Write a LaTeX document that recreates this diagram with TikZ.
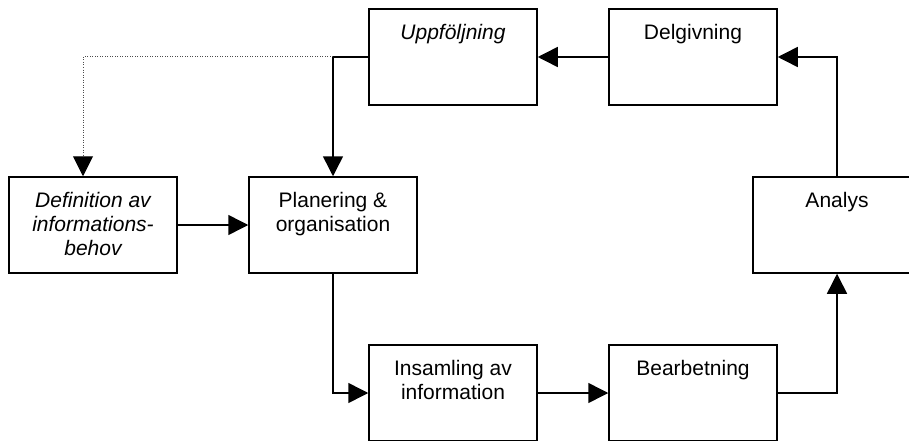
\documentclass[tikz,border=0pt]{standalone}
\usepackage{fontspec}
\setmainfont{Liberation Sans}
\usetikzlibrary{arrows.meta,positioning}
\tikzset{stepbox/.style={draw,line width=1.5pt,minimum width=168pt,minimum height=96pt,inner sep=0pt},
  boxtext/.style={inner sep=0pt,align=center,font=\fontsize{21}{24}\selectfont},
  flow/.style={line width=1.5pt,-{Triangle[length=20pt,width=20pt]}},
  hintflow/.style={line width=1pt,dash pattern=on 1pt off 1.5pt,black!70,
    -{Triangle[length=20pt,width=20pt,color=black]}}}

\begin{document}
\begin{tikzpicture}[x=1pt,y=-1pt]
  \clip (0,0) rectangle (909,441);
  \node[stepbox] (upf) at (453, 57) {};
  \node[stepbox] (del) at (693, 57) {};
  \node[stepbox] (def) at ( 93,225) {};
  \node[stepbox] (plan) at (333,225) {};
  \node[stepbox] (ana) at (837,225) {};
  \node[stepbox] (ins) at (453,393) {};
  \node[stepbox] (bea) at (693,393) {};

  \node[boxtext,below=16pt of upf.north] (upfT) {\itshape Uppföljning};
  \node[boxtext,below=16pt of del.north] (delT) {Delgivning};
  \node[boxtext,below=16pt of def.north] (defT) {\itshape Definition av\\\itshape informations-\\\itshape behov};
  \node[boxtext,below=16pt of plan.north] (planT) {Planering \&\\organisation};
  \node[boxtext,below=16pt of ana.north] (anaT) {Analys};
  \node[boxtext,below=16pt of ins.north] (insT) {Insamling av\\information};
  \node[boxtext,below=16pt of bea.north] (beaT) {Bearbetning};

  \coordinate (jn) at (upf.west -| plan.north);
  \coordinate (defin) at ([xshift=-10pt]def.north);

  \draw[flow] (del) -- (upf);
  \draw[flow] (ana.north) |- (del.east);
  \draw[flow] (upf.west) -| (plan.north);
  \draw[hintflow] (jn) -| (defin);
  \draw[flow] (def) -- (plan);
  \draw[flow] (plan.south) |- (ins.west);
  \draw[flow] (ins) -- (bea);
  \draw[flow] (bea.east) -| (ana.south);
 \end{tikzpicture}
\end{document}
